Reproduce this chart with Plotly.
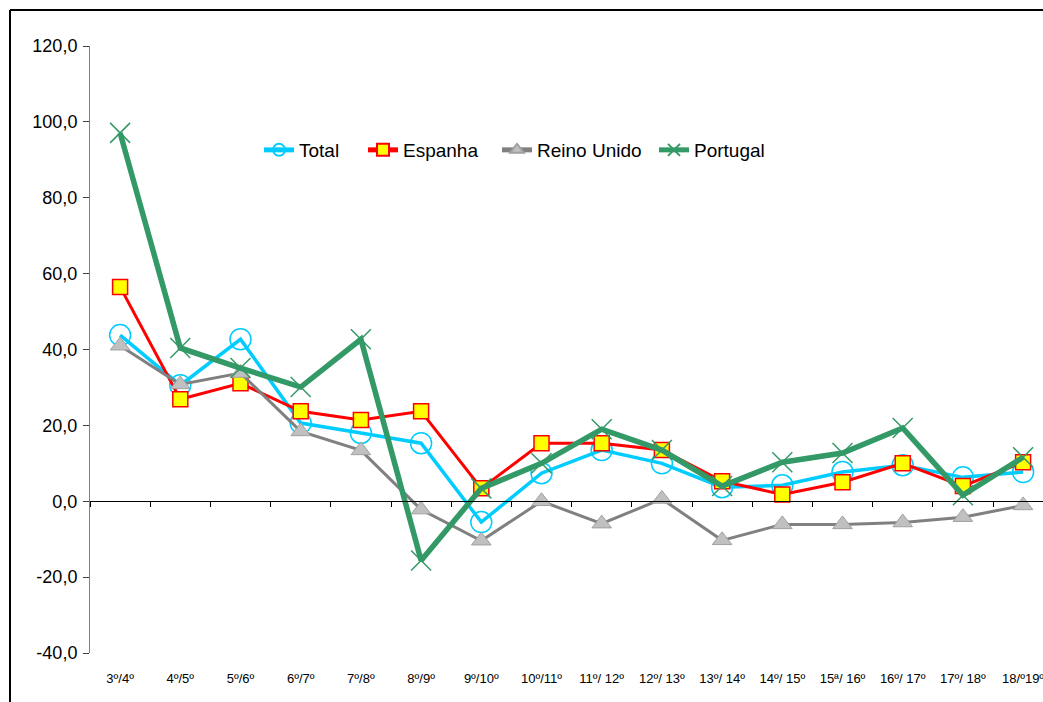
import plotly.graph_objects as go

categories = ["3º/4º", "4º/5º", "5º/6º", "6º/7º", "7º/8º", "8º/9º", "9º/10º", "10º/11º",
              "11º/ 12º", "12º/ 13º", "13º/ 14º", "14º/ 15º", "15ª/ 16º", "16º/ 17º", "17º/ 18º", "18/º19º"]
total = [43.8, 30.6, 42.7, 20.6, 18.0, 15.3, -5.5, 7.4, 13.5, 10.0, 3.7, 4.2, 7.7, 9.5, 6.3, 7.7]
espanha = [56.5, 26.9, 31.1, 23.7, 21.4, 23.7, 3.4, 15.3, 15.3, 13.5, 5.3, 1.8, 5.0, 10.0, 4.0, 10.3]
reino_unido = [41.0, 30.8, 33.8, 18.4, 13.4, -2.2, -10.4, 0.0, -5.9, 0.6, -10.3, -6.1, -6.1, -5.6, -4.2, -1.1]
portugal = [97.1, 40.4, 35.1, 30.1, 42.7, -15.6, 3.4, 10.0, 19.0, 13.5, 4.0, 10.3, 12.7, 19.3, 1.6, 11.6]
y_tick_values = [-40, -20, 0, 20, 40, 60, 80, 100, 120]
y_tick_labels = ["-40,0", "-20,0", "0,0", "20,0", "40,0", "60,0", "80,0", "100,0", "120,0"]

# body margin removed via post_script -> figure fills the 1043x702 window at (0,0)
W, H = 1043, 702
ml, mr, mt, mb = 90, 0, 46, 49
pw, ph = W - ml - mr, H - mt - mb


def px_x(page_x):
    return (page_x - ml) / pw


def px_y(page_y):
    return (H - mb - page_y) / ph


fig = go.Figure()

fig.add_trace(go.Scatter(x=categories, y=total, name="Total", mode="lines+markers", legend="legend",
                         line=dict(color="#00CCFF", width=3.5),
                         marker=dict(symbol="circle-open", size=21, color="#00CCFF",
                                     line=dict(width=1.5, color="#00CCFF"))))
fig.add_trace(go.Scatter(x=categories, y=espanha, name="Espanha", mode="lines+markers", legend="legend2",
                         line=dict(color="#FF0000", width=3),
                         marker=dict(symbol="square", size=15, color="#FFFF00",
                                     line=dict(width=1.5, color="#FF0000"))))
fig.add_trace(go.Scatter(x=categories, y=reino_unido, name="Reino Unido", mode="lines+markers", legend="legend3",
                         line=dict(color="#808080", width=3),
                         marker=dict(symbol="triangle-up", size=17, color="#C0C0C0",
                                     line=dict(width=1, color="#A0A0A0"))))
fig.add_trace(go.Scatter(x=categories, y=portugal, name="Portugal", mode="lines+markers", legend="legend4",
                         line=dict(color="#339966", width=5.5),
                         marker=dict(symbol="x-thin", size=20, color="#339966",
                                     line=dict(width=1.5, color="#339966"))))
# helper (no data) trace so the zero-level category axis is drawn
fig.add_trace(go.Scatter(x=list(range(len(categories))), y=[None] * len(categories),
                         xaxis="x2", yaxis="y", showlegend=False, hoverinfo="skip",
                         mode="lines"))

right_edge = -0.5 + pw / 60.2

legend_font = dict(size=19, family="Liberation Sans Narrow, Arial Narrow, Arial, sans-serif")


def leg(page_x):
    return dict(orientation="h", x=px_x(page_x - 3), y=px_y(150), xanchor="left", yanchor="middle",
                font=legend_font, bgcolor="rgba(0,0,0,0)", itemwidth=30, itemsizing="constant")


frame = dict(color="black", width=2)
fig.update_layout(
    width=W, height=H,
    margin=dict(l=ml, r=mr, t=mt, b=mb),
    paper_bgcolor="white", plot_bgcolor="white",
    font=dict(family="Arial, Liberation Sans, sans-serif", color="black"),
    showlegend=True,
    legend=leg(262), legend2=leg(366), legend3=leg(500), legend4=leg(657),
    xaxis=dict(type="category", categoryarray=categories, range=[-0.5, right_edge],
               showline=False, showgrid=False, zeroline=False, ticks="",
               tickfont=dict(size=13), ticklabelstandoff=16),
    xaxis2=dict(overlaying="x", anchor="free", position=40 / 160, range=[-0.5, right_edge],
                tick0=0.5, dtick=1, ticks="outside", ticklen=5, tickcolor="black",
                showline=True, linecolor="black", linewidth=1, showgrid=False,
                zeroline=False, showticklabels=False),
    yaxis=dict(range=[-40, 120], tickmode="array", tickvals=y_tick_values, ticktext=y_tick_labels,
               showgrid=False, zeroline=False,
               showline=True, linecolor="#808080", linewidth=1, ticks="outside",
               ticklen=6, tickcolor="#404040", tickfont=dict(size=18), ticklabelstandoff=2),
    shapes=[
        dict(type="line", xref="paper", yref="paper", x0=px_x(10), x1=1.01,
             y0=px_y(10), y1=px_y(10), line=frame, layer="below"),
        dict(type="line", xref="paper", yref="paper", x0=px_x(10), x1=px_x(10),
             y0=px_y(10), y1=-0.2, line=frame, layer="below"),
    ],
)

fig.write_html("out.html", config={"displayModeBar": False},
               post_script="document.body.style.margin='0';document.body.style.overflow='hidden';")
